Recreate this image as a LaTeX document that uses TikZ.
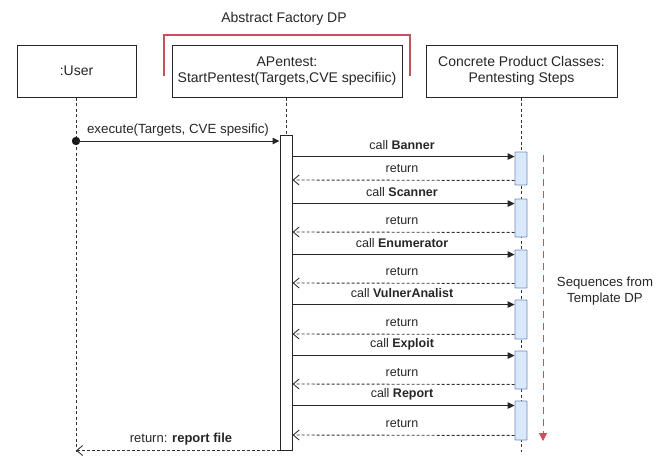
\documentclass[tikz,border=0pt]{standalone}
\usepackage{fontspec}
\setmainfont{Liberation Sans}
\usetikzlibrary{arrows.meta}
\definecolor{actfill}{HTML}{DAE8FC}
\definecolor{actline}{HTML}{6C8EBF}
\definecolor{redline}{HTML}{C8505C}
\begin{document}
\begin{tikzpicture}[x=1pt,y=-1pt,
  obj/.style={draw=black!85,line width=1pt,fill=white,align=center,font=\fontsize{14}{16.5}\selectfont,inner sep=0pt,text=black!85},
  life/.style={draw=black!80,dash pattern=on 3pt off 2.5pt,line width=0.9pt},
  actw/.style={draw=black!85,fill=white,line width=1pt},
  actb/.style={draw=actline,fill=actfill,line width=0.9pt,rounded corners=0.5pt},
  callarr/.style={draw=black!85,line width=1pt,-{Triangle[length=7pt,width=6.5pt]}},
  retarr/.style={draw=black!80,line width=0.9pt,dash pattern=on 3pt off 2pt,-{Straight Barb[length=6pt,width=10pt]}},
  lbl/.style={font=\fontsize{12.5}{14}\selectfont,text=black!85,inner sep=0pt},
]
\useasboundingbox (0,0) rectangle (666,455);
% objects
\node[obj,minimum width=119pt,minimum height=52pt] (user) at (76.5,71) {:User};
\node[obj,minimum width=230pt,minimum height=52pt] (ap) at (287,71) {APentest:\\StartPentest(Targets,CVE specifiic)};
\node[obj,minimum width=191pt,minimum height=52pt] (cp) at (521.5,71) {Concrete Product Classes:\\Pentesting Steps};
% abstract factory bracket
\node[font=\fontsize{14}{16}\selectfont,text=black!85] (af) at (284,19) {Abstract Factory DP};
\coordinate (b1) at (164,76);
\coordinate (b2) at (164,35);
\coordinate (b3) at (410,35);
\coordinate (b4) at (410,76);
\draw[redline,line width=1.3pt] (b1) -- (b2) -- (b3) -- (b4);
% lifelines
\coordinate (uend) at (76,452);
\coordinate (cend) at (521,452);
\draw[life] (user.south -| 76,0) -- (uend);
\draw[life] (ap.south -| 286,0) -- (286,135);
\draw[life] (cp.south -| 521,0) -- (cend);
% main activation
\node[actw,minimum width=12pt,minimum height=315pt,inner sep=0pt] (apact) at (286,292.5) {};
% execute
\coordinate (ustart) at (76,141);
\fill[black!90] (ustart) circle (4.2pt);
\draw[callarr] (ustart) -- (apact.west |- 0,141) coordinate (exe);
\node[lbl,font=\fontsize{13.3}{15}\selectfont] at (178,130) {execute(Targets, CVE spesific)};
% steps
\foreach \n/\name/\top/\bot in {1/Banner/152/185,2/Scanner/199/237,3/Enumerator/250/288,4/VulnerAnalist/300/339,5/Exploit/351/389,6/Report/401/440}{
  \node[actb,minimum width=12pt,minimum height={\bot-\top},inner sep=0pt] (s\n) at (521,{(\top+\bot)/2}) {};
  \draw[callarr] (apact.east |- s\n.north) ++(0,5) -- ([yshift=-5pt]s\n.north west);
  \node[lbl] at (402,{\top-7}) {call \textbf{\name}};
  \draw[retarr] ([yshift=5pt]s\n.south west) -- (apact.east |- 0,{\bot-5});
  \node[lbl] at (402,{\bot-16}) {return};
}
% return report file
\draw[retarr] (apact.south west) -- (uend |- apact.south west);
\node[lbl,font=\fontsize{13}{15}\selectfont] (rf) at (181,439) {return: \textbf{report file}};
% template DP arrow
\coordinate (t1) at (543,155);
\coordinate (t2) at (543,441);
\draw[redline,line width=1pt,dash pattern=on 7pt off 5pt,-{Triangle[length=8pt,width=8pt]}] (t1) -- (t2);
\node[font=\fontsize{13.2}{15.5}\selectfont,text=black!85,align=center] (sq) at (605,291) {Sequences from\\Template DP};
\end{tikzpicture}
\end{document}
